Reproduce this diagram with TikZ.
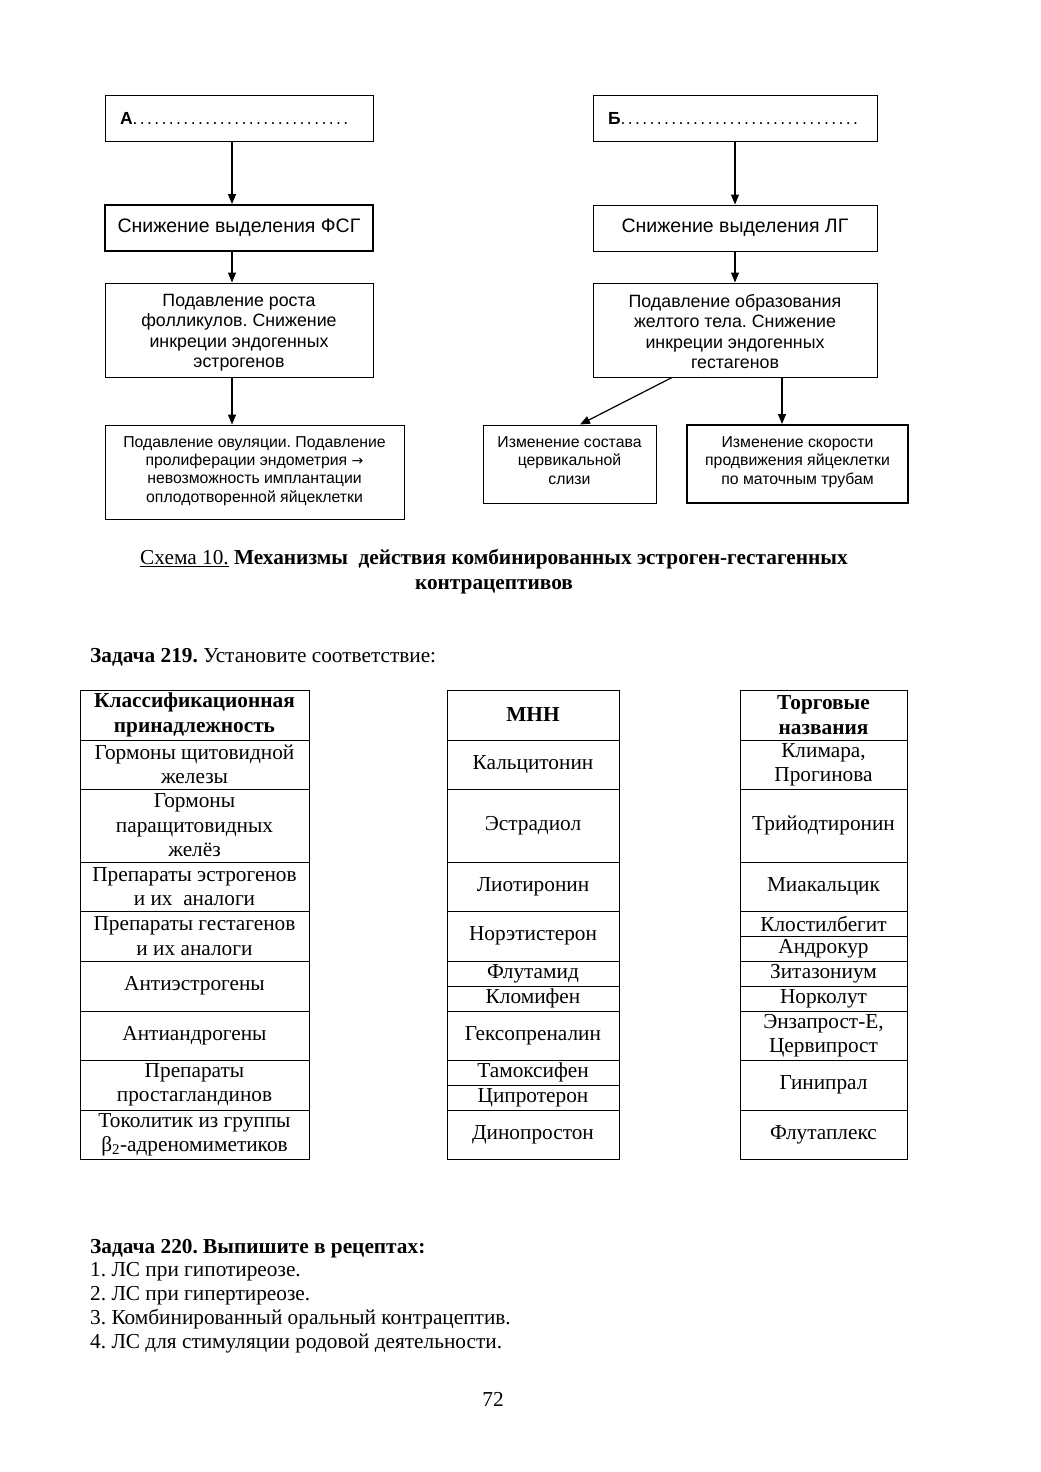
\documentclass[tikz,border=0pt]{standalone}
\usepackage{fontspec}
\setmainfont{Liberation Serif}
\newfontfamily\arialf{Liberation Sans}
\newfontfamily\symf{DejaVu Sans}
\usetikzlibrary{arrows.meta}
\frenchspacing
\tikzset{
  fbox/.style={draw, line width=1pt, inner sep=0pt, align=center, font=\arialf\fontsize{19.5}{22}\selectfont},
  fmid/.style={font=\arialf\fontsize{17.8}{20.3}\selectfont},
  fsmall/.style={font=\arialf\fontsize{15.8}{18.4}\selectfont},
  ftop/.style={font=\arialf\fontsize{17.5}{20}\selectfont},
  thickbox/.style={line width=2pt},
  arr/.style={line width=1.2pt, -{Triangle[length=10pt,width=8pt]}},
  cell/.style={draw, line width=0.9pt, inner sep=0pt, align=center, font=\fontsize{21.3}{24.4}\selectfont},
  ptext/.style={anchor=base west, inner sep=0pt, font=\fontsize{21.3}{24.4}\selectfont},
}
\newcommand\dotrow[1]{\foreach\i in {1,...,#1}{.\kern2.4pt}}
\newcommand\tabcell[6]{%
  \pgfmathsetmacro\cx{(#2+#4)/2}\pgfmathsetmacro\cy{(#3+#5)/2}%
  \pgfmathsetmacro\cw{#4-#2}\pgfmathsetmacro\ch{#5-#3}%
  \node[cell, minimum width=\cw pt, minimum height=\ch pt] (#1) at (\cx,\cy) {#6};}
\begin{document}
\frenchspacing
\begin{tikzpicture}[x=1pt,y=-1pt]
\useasboundingbox (0,0) rectangle (1041,1472);
\fill[white] (0,0) rectangle (1041,1472);

% flowchart
\node[fbox, ftop, minimum width=268pt, minimum height=46pt, text width=238pt, align=left] (A) at (239,118) {\hspace*{0pt}\textbf{А}\dotrow{30}};
\node[fbox, ftop, minimum width=284pt, minimum height=46pt, text width=254pt, align=left] (B) at (735,118) {\hspace*{0pt}\textbf{Б}\dotrow{33}};
\node[fbox, thickbox, minimum width=268pt, minimum height=46pt] (F) at (239,228) {Снижение выделения ФСГ};
\node[fbox, minimum width=284pt, minimum height=46pt] (L) at (735,228) {Снижение выделения ЛГ};
\node[fbox, fmid, minimum width=268pt, minimum height=94pt] (F2) at (239,330) {\rule{0pt}{17.5pt}Подавление роста\\фолликулов. Снижение\\инкреции эндогенных\\эстрогенов};
\node[fbox, fmid, minimum width=284pt, minimum height=94pt] (L2) at (735,330) {\rule{0pt}{16pt}Подавление образования\\желтого тела. Снижение\\инкреции эндогенных\\гестагенов};
\node[fbox, fsmall, minimum width=299pt, minimum height=94pt] (F3) at (254.5,472) {Подавление овуляции. Подавление\\пролиферации эндометрия {\symf\fontsize{14}{18}\selectfont →}\\невозможность имплантации\\оплодотворенной яйцеклетки\\[-13pt]};
\node[fbox, fsmall, minimum width=173pt, minimum height=78pt] (L3) at (569.5,464) {Изменение состава\\цервикальной\\слизи\\[-11pt]};
\node[fbox, fsmall, thickbox, minimum width=221pt, minimum height=78pt] (L4) at (797.5,464) {Изменение скорости\\продвижения яйцеклетки\\по маточным трубам\\[-11pt]};

\draw[arr] ([xshift=-7pt]A.south) -- ([xshift=-7pt]F.north);
\draw[arr] ([xshift=-7pt]F.south) -- ([xshift=-7pt]F2.north);
\draw[arr] ([xshift=-7pt]F2.south) -- ([xshift=-22.5pt]F3.north);
\draw[arr] (B.south) -- (L.north);
\draw[arr] (L.south) -- (L2.north);
\draw[arr] ([xshift=-63pt]L2.south) -- ([xshift=10.5pt]L3.north);
\draw[arr] ([xshift=47pt]L2.south) -- ([xshift=-15.5pt]L4.north);

% caption
\node[anchor=base, inner sep=0pt, font=\fontsize{21.3}{24.4}\selectfont] (cap1) at (494,564) {\underline{Схема 10.} \textbf{Механизмы \ действия комбинированных эстроген-гестагенных}};
\node[anchor=base, inner sep=0pt, font=\fontsize{21.3}{24.4}\selectfont] (cap2) at (494,589) {\textbf{контрацептивов}};

\node[ptext] (z219) at (90,662) {\textbf{Задача 219.} Установите соответствие:};

% table 1
\tabcell{a0}{80}{690}{309}{740}{\textbf{Классификационная}\\\textbf{принадлежность}}
\tabcell{a1}{80}{740}{309}{789}{Гормоны щитовидной\\железы}
\tabcell{a2}{80}{789}{309}{862}{Гормоны\\паращитовидных\\желёз}
\tabcell{a3}{80}{862}{309}{911}{Препараты эстрогенов\\и их \ аналоги}
\tabcell{a4}{80}{911}{309}{961}{Препараты гестагенов\\и их аналоги}
\tabcell{a5}{80}{961}{309}{1011}{Антиэстрогены}
\tabcell{a6}{80}{1011}{309}{1060}{Антиандрогены}
\tabcell{a7}{80}{1060}{309}{1110}{Препараты\\простагландинов}
\tabcell{a8}{80}{1110}{309}{1159}{Токолитик из группы\\β\textsubscript{2}-адреномиметиков}

% table 2
\tabcell{b0}{447}{690}{619}{740}{\textbf{МНН}}
\tabcell{b1}{447}{740}{619}{789}{Кальцитонин}
\tabcell{b2}{447}{789}{619}{862}{Эстрадиол}
\tabcell{b3}{447}{862}{619}{911}{Лиотиронин}
\tabcell{b4}{447}{911}{619}{961}{Норэтистерон}
\tabcell{b5}{447}{961}{619}{986}{Флутамид}
\tabcell{b6}{447}{986}{619}{1011}{Кломифен}
\tabcell{b7}{447}{1011}{619}{1060}{Гексопреналин}
\tabcell{b8}{447}{1060}{619}{1085}{Тамоксифен}
\tabcell{b9}{447}{1085}{619}{1110}{Ципротерон}
\tabcell{b10}{447}{1110}{619}{1159}{Динопростон}

% table 3
\tabcell{c0}{740}{690}{907}{740}{\textbf{Торговые}\\\textbf{названия}}
\tabcell{c1}{740}{740}{907}{789}{Климара,\\Прогинова}
\tabcell{c2}{740}{789}{907}{862}{Трийодтиронин}
\tabcell{c3}{740}{862}{907}{911}{Миакальцик}
\tabcell{c4}{740}{911}{907}{936}{Клостилбегит}
\tabcell{c5}{740}{936}{907}{961}{Андрокур}
\tabcell{c6}{740}{961}{907}{986}{Зитазониум}
\tabcell{c7}{740}{986}{907}{1011}{Норколут}
\tabcell{c8}{740}{1011}{907}{1060}{Энзапрост-Е,\\Цервипрост}
\tabcell{c9}{740}{1060}{907}{1110}{Гинипрал}
\tabcell{c10}{740}{1110}{907}{1159}{Флутаплекс}

% task 220
\node[ptext] (z220) at (90,1253) {\textbf{Задача 220. Выпишите в рецептах:}};
\node[ptext] (l1) at (90,1276) {1. ЛС при гипотиреозе.};
\node[ptext] (l2) at (90,1300) {2. ЛС при гипертиреозе.};
\node[ptext] (l3) at (90,1324) {3. Комбинированный оральный контрацептив.};
\node[ptext] (l4) at (90,1348) {4. ЛС для стимуляции родовой деятельности.};

\node[anchor=base, inner sep=0pt, font=\fontsize{21.3}{24.4}\selectfont] (pg) at (493,1406) {72};
\end{tikzpicture}
\end{document}
